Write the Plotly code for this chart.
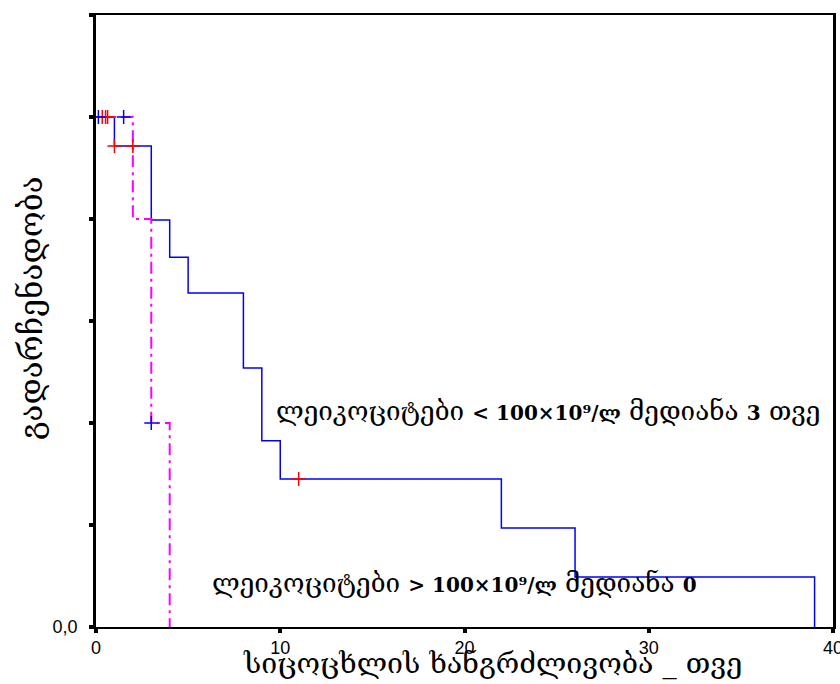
import plotly.graph_objects as go

# Kaplan-Meier step data
low_t = [0, 1, 3, 4, 5, 8, 9, 10, 22, 26, 39]
low_s = [1.0, 0.943, 0.798, 0.725, 0.655, 0.508, 0.365, 0.29, 0.194, 0.098, 0.0]
high_t = [0, 2, 3, 4]
high_s = [1.0, 0.8, 0.4, 0.0]

# censored marks
red_cens_t = [0.34, 0.52, 0.63, 1.0, 2.0, 11.0]
red_cens_s = [1.0, 1.0, 1.0, 0.943, 0.943, 0.29]
blue_cens_t = [0.13, 1.5, 3.0]
blue_cens_s = [1.0, 1.0, 0.4]

x_ticks = [0, 10, 20, 30, 40]
y_ticks = [0.0, 0.2, 0.4, 0.6, 0.8, 1.0, 1.2]
y_ticktext = ["0,0", "", "", "", "", "", ""]

NUM = '<span style="font-family:DejaVu Serif;font-weight:bold;font-size:20px">{}</span>'
ann_low = "ლეიკოციტები " + NUM.format("&lt; 100×10⁹/ლ") + " მედიანა " + NUM.format("3") + " თვე"
ann_high = "ლეიკოციტები " + NUM.format("&gt; 100×10⁹/ლ") + " მედიანა " + NUM.format("0")
x_title = "სიცოცხლის ხანგრძლივობა _ თვე"
y_title = "გადარჩენადობა"

L, R, T, B = 96, 7, 15, 57
W, H = 840, 684
pw, ph = W - L - R, H - T - B

fig = go.Figure()
fig.add_trace(go.Scatter(x=low_t, y=low_s, mode="lines", line_shape="hv",
                         line=dict(color="#0000ff", width=1.5), showlegend=False))
fig.add_trace(go.Scatter(x=high_t, y=high_s, mode="lines", line_shape="hv",
                         line=dict(color="#ff00ff", width=2, dash="12px,5px,3px,5px"),
                         showlegend=False))
fig.add_trace(go.Scatter(x=red_cens_t, y=red_cens_s, mode="markers",
                         marker=dict(symbol="cross-thin", size=10,
                                     line=dict(color="#ff0000", width=1.5)),
                         showlegend=False))
fig.add_trace(go.Scatter(x=blue_cens_t, y=blue_cens_s, mode="markers",
                         marker=dict(symbol="cross-thin", size=10,
                                     line=dict(color="#0000ff", width=1.5)),
                         showlegend=False))

geo_font = "DejaVu Serif, DejaVu Sans, serif"

fig.add_annotation(x=9.66, y=0.4235, xref="x", yref="y", text=ann_low,
                   showarrow=False, xanchor="left", yanchor="middle",
                   font=dict(family=geo_font, size=26, color="black"))
fig.add_annotation(x=6.19, y=0.086, xref="x", yref="y", text=ann_high,
                   showarrow=False, xanchor="left", yanchor="middle",
                   font=dict(family=geo_font, size=26, color="black"))
fig.add_annotation(x=(492 - L) / pw, y=(H - B - 663) / ph, xref="paper", yref="paper",
                   text=x_title, showarrow=False, xanchor="center", yanchor="middle",
                   font=dict(family=geo_font, size=28.5, color="black"))
fig.add_annotation(x=(31 - L) / pw, y=(H - B - 308) / ph, xref="paper", yref="paper",
                   text=y_title, showarrow=False, textangle=-90,
                   xanchor="center", yanchor="middle",
                   font=dict(family=geo_font, size=31.5, color="black"))

fig.update_layout(
    width=W, height=H,
    margin=dict(l=L, r=R, t=T, b=B, autoexpand=False),
    paper_bgcolor="white", plot_bgcolor="white",
    xaxis=dict(range=[0, 40], tickvals=x_ticks, ticks="outside", ticklen=4, tickwidth=4,
               tickcolor="black", showgrid=False, zeroline=False, automargin=False,
               ticklabeloverflow="allow",
               showline=True, linecolor="black", linewidth=1.5, mirror=True,
               tickfont=dict(family="Liberation Sans, Arial, sans-serif", size=18, color="black")),
    yaxis=dict(range=[0, 1.2], tickvals=y_ticks, ticktext=y_ticktext, ticks="outside",
               ticklen=4, tickwidth=4, tickcolor="black", showgrid=False, zeroline=False,
               automargin=False, ticklabelstandoff=8,
               showline=True, linecolor="black", linewidth=2.5, mirror=True,
               tickfont=dict(family="Liberation Sans, Arial, sans-serif", size=18, color="black")),
)

fig.write_html("out.html", config={"displayModeBar": False},
               post_script="document.body.style.margin='0';document.body.style.overflow='hidden';")
